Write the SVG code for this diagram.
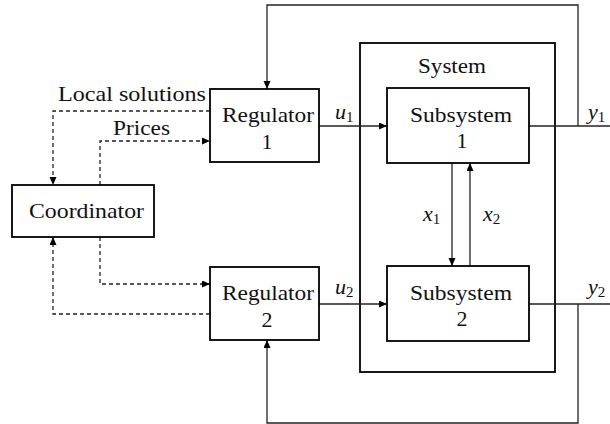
<svg xmlns="http://www.w3.org/2000/svg" width="610" height="424" viewBox="0 0 610 424" font-family="Liberation Serif, Times New Roman, DejaVu Serif, serif">
  <style>
    .box { fill: #fff; stroke: #000; stroke-width: 1.8; }
    .frame { fill: none; stroke: #000; stroke-width: 1.8; }
    .wire { fill: none; stroke: #222; stroke-width: 1.3; }
    .dash { fill: none; stroke: #222; stroke-width: 1.3; stroke-dasharray: 4 3; }
    text { font-size: 22px; fill: #111; }
    .var { font-style: italic; }
    .sub { font-size: 15px; font-style: normal; }
  </style>
  <defs>
    <marker id="arr" markerUnits="userSpaceOnUse" markerWidth="9" markerHeight="8" refX="8" refY="3.5" orient="auto">
      <path d="M0,0 L8,3.5 L0,7 z" fill="#000"/>
    </marker>
  </defs>

  <rect width="610" height="424" fill="#fff"/>

  <!-- outer system frame -->
  <g id="system">
    <rect class="frame" x="360" y="43" width="195" height="329"/>
    <text x="452" y="73" text-anchor="middle" textLength="68" lengthAdjust="spacingAndGlyphs">System</text>
  </g>

  <g id="connectors">
    <!-- control inputs -->
    <line class="wire" x1="319" y1="126" x2="387" y2="126" marker-end="url(#arr)"/>
    <line class="wire" x1="319" y1="304" x2="387" y2="304" marker-end="url(#arr)"/>
    <!-- outputs -->
    <line class="wire" x1="529" y1="126" x2="610" y2="126"/>
    <line class="wire" x1="529" y1="304" x2="610" y2="304"/>
    <!-- feedback loops -->
    <polyline class="wire" points="578,126 578,5 267,5 267,89" marker-end="url(#arr)"/>
    <polyline class="wire" points="578,304 578,423 267,423 267,340" marker-end="url(#arr)"/>
    <!-- interaction between subsystems -->
    <line class="wire" x1="452" y1="163" x2="452" y2="266" marker-end="url(#arr)"/>
    <line class="wire" x1="470" y1="266" x2="470" y2="163" marker-end="url(#arr)"/>
    <!-- coordination signals -->
    <polyline class="dash" points="210,111 53,111 53,185" marker-end="url(#arr)"/>
    <polyline class="dash" points="100,185 100,141 210,141" marker-end="url(#arr)"/>
    <polyline class="dash" points="100,237 100,284 210,284" marker-end="url(#arr)"/>
    <polyline class="dash" points="210,314 53,314 53,237" marker-end="url(#arr)"/>
  </g>

  <g id="coordinator">
    <rect class="box" x="12" y="185" width="142" height="52"/>
    <text x="86.5" y="218" text-anchor="middle" textLength="115" lengthAdjust="spacingAndGlyphs">Coordinator</text>
  </g>

  <g id="regulator1">
    <rect class="box" x="210" y="89" width="109" height="73"/>
    <text x="268" y="122" text-anchor="middle" textLength="92" lengthAdjust="spacingAndGlyphs">Regulator</text>
    <text x="267" y="149" text-anchor="middle">1</text>
  </g>

  <g id="regulator2">
    <rect class="box" x="210" y="267" width="109" height="73"/>
    <text x="268" y="300" text-anchor="middle" textLength="92" lengthAdjust="spacingAndGlyphs">Regulator</text>
    <text x="267" y="327" text-anchor="middle">2</text>
  </g>

  <g id="subsystem1">
    <rect class="box" x="387" y="88" width="142" height="75"/>
    <text x="461" y="121.5" text-anchor="middle" textLength="102" lengthAdjust="spacingAndGlyphs">Subsystem</text>
    <text x="462" y="148" text-anchor="middle">1</text>
  </g>

  <g id="subsystem2">
    <rect class="box" x="387" y="266" width="142" height="75"/>
    <text x="461" y="299.5" text-anchor="middle" textLength="102" lengthAdjust="spacingAndGlyphs">Subsystem</text>
    <text x="462" y="326" text-anchor="middle">2</text>
  </g>

  <g id="labels">
    <text x="58" y="101" textLength="148" lengthAdjust="spacingAndGlyphs">Local solutions</text>
    <text x="113" y="135" textLength="57" lengthAdjust="spacingAndGlyphs">Prices</text>
    <text class="var" x="335" y="119">u<tspan class="sub" dy="3">1</tspan></text>
    <text class="var" x="335" y="294">u<tspan class="sub" dy="3">2</tspan></text>
    <text class="var" x="588" y="119">y<tspan class="sub" dy="3">1</tspan></text>
    <text class="var" x="588" y="294">y<tspan class="sub" dy="3">2</tspan></text>
    <text class="var" x="423" y="221">x<tspan class="sub" dy="3">1</tspan></text>
    <text class="var" x="483" y="221">x<tspan class="sub" dy="3">2</tspan></text>
  </g>
</svg>
